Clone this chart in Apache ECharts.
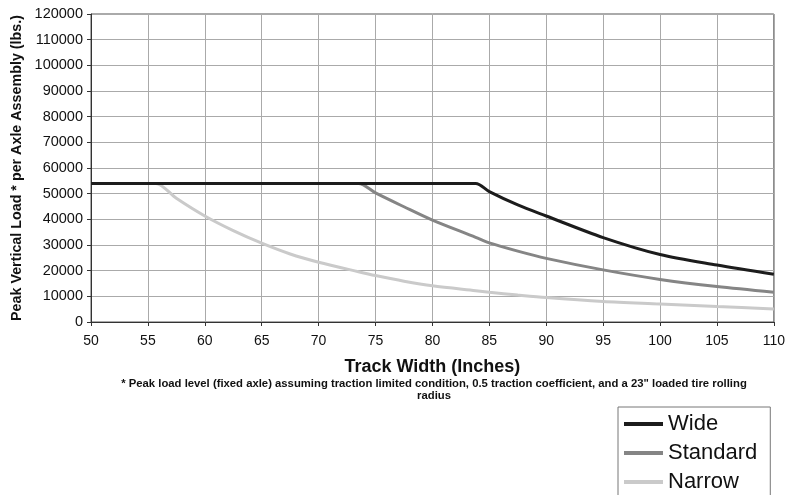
<!DOCTYPE html>
<html><head><meta charset="utf-8">
<script src="https://cdn.jsdelivr.net/npm/echarts@6/dist/echarts.min.js"></script>
<style>html,body{margin:0;padding:0;background:#fff;overflow:hidden}#c{width:788px;height:530px}</style>
</head><body><div id="c"></div>
<script>
const trackWidth = [50, 55, 55.7, 57.5, 60, 62.5, 65, 67.5, 70, 73.5, 75, 77.5, 80, 83.8, 85, 87.5, 90, 95, 100, 105, 110];
const wide     = [54000, 54000, 54000, 54000, 54000, 54000, 54000, 54000, 54000, 54000, 54000, 54000, 54000, 54000, 50800, 45600, 41300, 32900, 26300, 22200, 18600];
const standard = [54000, 54000, 54000, 54000, 54000, 54000, 54000, 54000, 54000, 54000, 50300, 44900, 39700, 33000, 30800, 27600, 24800, 20300, 16600, 13800, 11600];
const narrow   = [54000, 54000, 54000, 48200, 41300, 35600, 30700, 26500, 23300, 19600, 18100, 15900, 14100, 12200, 11600, 10500, 9500, 8000, 7000, 6000, 5100];
const seriesNames = ['Wide', 'Standard', 'Narrow'];
const footnote = ['* Peak load level (fixed axle) assuming traction limited condition, 0.5 traction coefficient, and a 23" loaded tire rolling', 'radius'];

const pairs = arr => arr.map((v, i) => [trackWidth[i], v]);
const colors = ['#1c1c1c', '#858585', '#cacaca'];
const chart = echarts.init(document.getElementById('c'));
chart.setOption({
  animation: false,
  grid: { left: 91, right: 10, top: 14, height: 308, show: true, borderColor: '#555', borderWidth: 1 },
  xAxis: {
    type: 'value', min: 50, max: 110, interval: 5,
    name: 'Track Width (Inches)', nameLocation: 'middle', nameGap: 36,
    nameTextStyle: { fontFamily: 'Liberation Sans, Arial, sans-serif', fontWeight: 'bold', fontSize: 18, color: '#111' },
    axisLine: { lineStyle: { color: '#333' } },
    axisTick: { show: true, length: 4, lineStyle: { color: '#333' } },
    axisLabel: { fontFamily: 'Liberation Sans, Arial, sans-serif', fontSize: 14, color: '#111', margin: 12 },
    splitLine: { show: true, lineStyle: { color: '#aaa', width: 1 } }
  },
  yAxis: {
    type: 'value', min: 0, max: 120000, interval: 10000,
    name: 'Peak Vertical Load * per Axle Assembly (lbs.)', nameLocation: 'middle', nameGap: 66,
    nameTextStyle: { fontFamily: 'Liberation Sans, Arial, sans-serif', fontWeight: 'bold', fontSize: 14.3, color: '#111' },
    axisLine: { show: true, lineStyle: { color: '#333' } },
    axisTick: { show: true, length: 4, lineStyle: { color: '#333' } },
    axisLabel: { fontFamily: 'Liberation Sans, Arial, sans-serif', fontSize: 14.5, color: '#111', margin: 8, formatter: v => String(v) },
    splitLine: { show: true, lineStyle: { color: '#aaa', width: 1 } }
  },
  legend: {
    orient: 'vertical', left: 618, top: 407, itemGap: 7,
    padding: [6, 13, 8, 6],
    borderColor: '#777', borderWidth: 1, backgroundColor: '#fff',
    icon: 'rect', itemWidth: 39, itemHeight: 4, itemStyle: { borderWidth: 0 },
    textStyle: { fontFamily: 'Liberation Sans, Arial, sans-serif', fontSize: 22, color: '#111' },
    data: seriesNames
  },
  graphic: footnote.map((t, i) => ({
    type: 'text', x: 434, y: 378 + i * 12,
    style: { text: t, textAlign: 'center', fontFamily: 'Liberation Sans, Arial, sans-serif', fontWeight: 'bold', fontSize: 11.3, fill: '#111' }
  })),
  series: [wide, standard, narrow].map((d, i) => ({
    name: seriesNames[i], type: 'line', data: pairs(d), smooth: 0.3,
    showSymbol: false, symbol: 'none',
    lineStyle: { color: colors[i], width: 3 }, itemStyle: { color: colors[i] },
    z: 10 - i
  }))
});
</script></body></html>
